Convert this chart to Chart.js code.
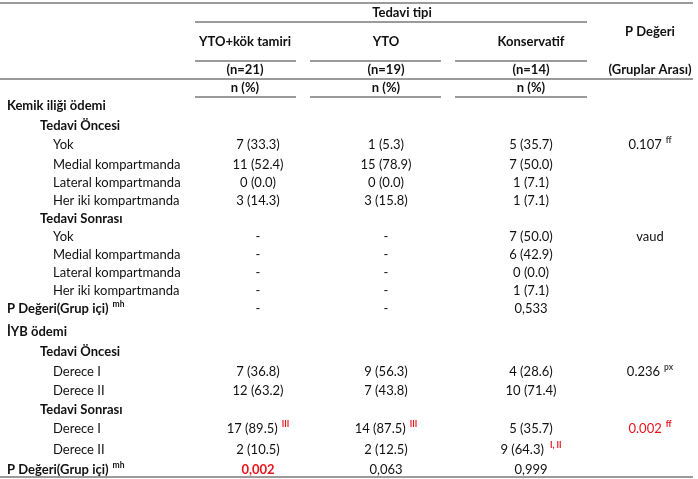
<!DOCTYPE html>
<html>
<head>
<meta charset="utf-8">
<script src="https://cdn.jsdelivr.net/npm/chart.js@4/dist/chart.umd.min.js"></script>
<style>
  body { margin: 0; background: #fff; }
  #wrap { width: 698px; height: 479px; }
</style>
</head>
<body>
<div id="wrap"><canvas id="tbl" width="698" height="479"></canvas></div>
<script>
// Table content (superscripts after "^")
const groups = ['YTO+kök tamiri', 'YTO', 'Konservatif'];
const groupN = ['(n=21)', '(n=19)', '(n=14)'];

const rowLabels = [
    'Kemik iliği ödemi', 'Tedavi Öncesi', 'Yok', 'Medial kompartmanda', 'Lateral kompartmanda', 'Her iki kompartmanda',
    'Tedavi Sonrası', 'Yok', 'Medial kompartmanda', 'Lateral kompartmanda', 'Her iki kompartmanda',
    'P Değeri(Grup içi)^mh', 'İYB ödemi', 'Tedavi Öncesi', 'Derece I', 'Derece II',
    'Tedavi Sonrası', 'Derece I', 'Derece II', 'P Değeri(Grup içi)^mh'
];
const rowLevel = [0, 1, 2, 2, 2, 2, 1, 2, 2, 2, 2, 0, 0, 1, 2, 2, 1, 2, 2, 0];

const ytoKok = ['', '', '7 (33.3)', '11 (52.4)', '0 (0.0)', '3 (14.3)', '', '-', '-', '-', '-', '-',
    '', '', '7 (36.8)', '12 (63.2)', '', '17 (89.5)^III', '2 (10.5)', '0,002'];
const yto = ['', '', '1 (5.3)', '15 (78.9)', '0 (0.0)', '3 (15.8)', '', '-', '-', '-', '-', '-',
    '', '', '9 (56.3)', '7 (43.8)', '', '14 (87.5)^III', '2 (12.5)', '0,063'];
const konservatif = ['', '', '5 (35.7)', '7 (50.0)', '1 (7.1)', '1 (7.1)', '', '7 (50.0)', '6 (42.9)', '0 (0.0)', '1 (7.1)', '0,533',
    '', '', '4 (28.6)', '10 (71.4)', '', '5 (35.7)', '9 (64.3)^ I, II', '0,999'];
const pBetween = ['', '', '0.107^ff', '', '', '', '', 'vaud', '', '', '', '',
    '', '', '0.236^px', '', '', '0.002^ff', '', ''];

// layout (table grid positions, in canvas units)
const rowY = [106, 126, 145, 165, 183, 201, 219, 237, 255, 273, 291, 309, 332, 352, 372, 391, 410, 429, 450, 470];
const indentX = [7, 40, 53];
const colX = [258, 386, 531, 650];
const headX = [245, 386, 531];
const segs = [[195, 296], [310, 441], [455, 587]];

const FONT = 'Lato, "Open Sans", sans-serif';
const INK = '#111';
const RED = '#e8141c';
const LINE = '#7a7a7a';

function cellPoints(x) {
    return rowY.map(y => ({ x: x, y: y }));
}

const columns = [ytoKok, yto, konservatif, pBetween];

const datasets = [{
    label: 'rows',
    data: rowY.map((y, i) => ({ x: indentX[rowLevel[i]], y: y })),
    texts: rowLabels,
    align: 'left',
    pointRadius: 0
}].concat(columns.map((col, c) => ({
    label: 'col' + c,
    data: cellPoints(colX[c]),
    texts: col,
    align: 'center',
    pointRadius: 0
})));

function isBoldRow(i) { return rowLevel[i] < 2; }

function drawText(ctx, txt, x, y, align, opts) {
    const parts = txt.split('^');
    const main = parts[0], sup = parts[1];
    const mainFont = (opts.bold ? 'bold ' : '') + '13px ' + FONT;
    const supFont = 'bold 8.5px ' + FONT;
    ctx.font = mainFont;
    const wMain = ctx.measureText(main).width;
    let wSup = 0;
    if (sup) {
        ctx.font = supFont;
        wSup = ctx.measureText(sup).width + 4;
    }
    let start = align === 'left' ? x : x - (wMain + wSup) / 2;
    ctx.textAlign = 'left';
    ctx.textBaseline = 'middle';
    ctx.font = mainFont;
    ctx.fillStyle = opts.color || INK;
    ctx.fillText(main, start, y);
    if (sup) {
        ctx.font = supFont;
        ctx.fillStyle = opts.supColor || '#333';
        ctx.fillText(sup, start + wMain + 4, y - 5);
    }
}

const tablePlugin = {
    id: 'tablePlugin',
    afterDatasetsDraw(chart) {
        const ctx = chart.ctx;
        const xs = chart.scales.x, ys = chart.scales.y;
        const px = v => xs.getPixelForValue(v);
        const py = v => ys.getPixelForValue(v);
        ctx.save();

        // rules
        ctx.strokeStyle = LINE;
        ctx.lineWidth = 1.3;
        const hline = (x1, x2, y) => {
            ctx.beginPath();
            ctx.moveTo(px(x1), py(y));
            ctx.lineTo(px(x2), py(y));
            ctx.stroke();
        };
        hline(0, 693, 3);
        hline(195, 587, 22);
        segs.forEach(s => hline(s[0], s[1], 61));
        hline(0, 693, 79);
        segs.forEach(s => hline(s[0], s[1], 97));
        hline(0, 693, 477);

        // header
        drawText(ctx, 'Tedavi tipi', px(402), py(13), 'center', { bold: true });
        groups.forEach((g, i) => drawText(ctx, g, px(headX[i]), py(42), 'center', { bold: true }));
        groupN.forEach((n, i) => drawText(ctx, n, px(headX[i]), py(70), 'center', { bold: true }));
        groups.forEach((g, i) => drawText(ctx, 'n (%)', px(headX[i]), py(88), 'center', { bold: true }));
        drawText(ctx, 'P Değeri', px(650), py(32), 'center', { bold: true });
        drawText(ctx, '(Gruplar Arası)', px(650), py(70), 'center', { bold: true });

        // body cells, drawn at each point element
        chart.data.datasets.forEach((ds, d) => {
            const meta = chart.getDatasetMeta(d);
            meta.data.forEach((el, i) => {
                const t = ds.texts[i];
                if (!t) return;
                const opts = {};
                if (d === 0) {
                    opts.bold = isBoldRow(i);
                    opts.supColor = INK;
                } else {
                    const sigBold = d === 1 && i === 19;
                    const sigP = d === 4 && i === 17;
                    opts.bold = sigBold;
                    if (sigBold || sigP) opts.color = RED;
                    opts.supColor = (d === 4 && !sigP) ? '#444' : RED;
                }
                drawText(ctx, t, el.x, el.y, ds.align, opts);
            });
        });
        ctx.restore();
    }
};

new Chart(document.getElementById('tbl'), {
    type: 'scatter',
    data: { datasets: datasets },
    options: {
        responsive: false,
        animation: false,
        events: [],
        layout: { padding: 0 },
        plugins: { legend: { display: false }, tooltip: { enabled: false } },
        scales: {
            x: { type: 'linear', min: 0, max: 698, display: false },
            y: { type: 'linear', min: 0, max: 479, reverse: true, display: false }
        }
    },
    plugins: [tablePlugin]
});
</script>
</body>
</html>
